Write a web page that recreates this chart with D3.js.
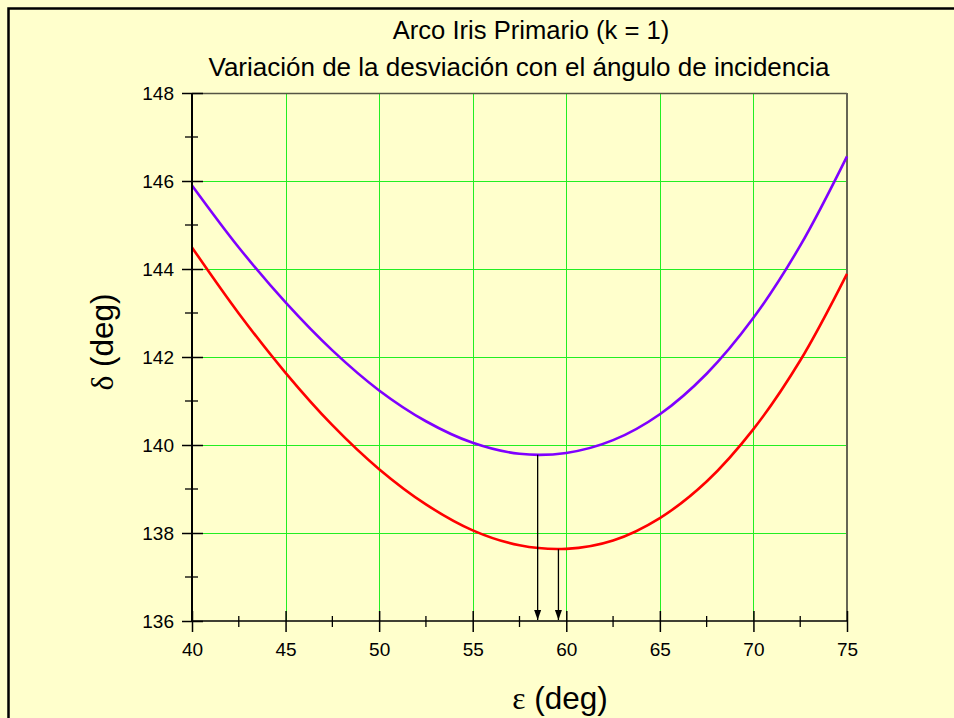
<!DOCTYPE html>
<html><head><meta charset="utf-8">
<script src="https://cdn.jsdelivr.net/npm/d3@7"></script>
<style>html,body{margin:0;padding:0;background:#FFFFCC;overflow:hidden;width:954px;height:718px;}svg{display:block;}</style>
</head><body>
<script>
// Data
const epsilon = [40, 42.5, 45, 47.5, 50, 52.5, 55, 57.5, 60, 62.5, 65, 67.5, 70, 72.5, 75];
const deltaViolet = [145.90, 144.49, 143.24, 142.15, 141.24, 140.54, 140.05, 139.80, 139.82, 140.11, 140.70, 141.62, 142.89, 144.53, 146.56];
const deltaRed    = [144.49, 142.99, 141.64, 140.45, 139.45, 138.65, 138.06, 137.72, 137.64, 137.83, 138.34, 139.17, 140.36, 141.92, 143.89];
const minViolet = [58.47, 139.78];
const minRed = [59.58, 137.63];
const xTicks = [40, 45, 50, 55, 60, 65, 70, 75];
const yTicks = [136, 138, 140, 142, 144, 146, 148];
const titleLines = ["Arco Iris Primario (k = 1)", "Variación de la desviación con el ángulo de incidencia"];

const W = 954, H = 718;
const svg = d3.select("body").append("svg").attr("width", W).attr("height", H);
svg.append("rect").attr("x", 0).attr("y", 0).attr("width", W).attr("height", H).attr("fill", "#FFFFCC");
// outer border (only left/top visible in the picture)
svg.append("path").attr("d", `M8.5,${H}V8.5H${W}`).attr("fill", "none").attr("stroke", "#000").attr("stroke-width", 2.5);

const L = 192, R = 847, T = 93, B = 621;
const x = d3.scaleLinear().domain([40, 75]).range([L, R]);
const y = d3.scaleLinear().domain([136, 148]).range([B, T]);
const font = "Arial, 'Liberation Sans', sans-serif";
const px = v => Math.round(v) + 0.5;

// grid
const g = svg.append("g");
g.selectAll(".gx").data(xTicks.slice(1, -1)).enter().append("line")
  .attr("x1", d => px(x(d))).attr("x2", d => px(x(d))).attr("y1", T).attr("y2", B)
  .attr("stroke", "#22EE22").attr("stroke-width", 1);
g.selectAll(".gy").data(yTicks.slice(1, -1)).enter().append("line")
  .attr("x1", L).attr("x2", R).attr("y1", d => px(y(d))).attr("y2", d => px(y(d)))
  .attr("stroke", "#22EE22").attr("stroke-width", 1);

// frame top/right
svg.append("line").attr("x1", L).attr("x2", R).attr("y1", T + 0.5).attr("y2", T + 0.5).attr("stroke", "#555544").attr("stroke-width", 1.5);
svg.append("line").attr("x1", R).attr("x2", R).attr("y1", T).attr("y2", B).attr("stroke", "#666655").attr("stroke-width", 2);

// curves
const line = d3.line().x(d => x(d[0])).y(d => y(d[1])).curve(d3.curveCatmullRom.alpha(0.5));
svg.append("path").datum(epsilon.map((e, i) => [e, deltaViolet[i]])).attr("d", line)
  .attr("fill", "none").attr("stroke", "#7F00FF").attr("stroke-width", 2.6);
svg.append("path").datum(epsilon.map((e, i) => [e, deltaRed[i]])).attr("d", line)
  .attr("fill", "none").attr("stroke", "#FF0000").attr("stroke-width", 2.6);

// arrows
const defs = svg.append("defs");
defs.append("marker").attr("id", "ah").attr("viewBox", "0 0 10 10").attr("refX", 10).attr("refY", 5)
  .attr("markerWidth", 10).attr("markerHeight", 10).attr("markerUnits", "userSpaceOnUse").attr("orient", "auto")
  .append("path").attr("d", "M0,1.5 L10,5 L0,8.5 Z").attr("fill", "#000");
[minViolet, minRed].forEach(m => {
  svg.append("line").attr("x1", x(m[0])).attr("x2", x(m[0])).attr("y1", y(m[1])).attr("y2", B - 1)
    .attr("stroke", "#000").attr("stroke-width", 1.3).attr("marker-end", "url(#ah)");
});

// axes
const xAxis = d3.axisBottom(x).tickValues(xTicks).tickSize(10).tickPadding(12).tickFormat(d3.format("d"));
const xa = svg.append("g").attr("transform", `translate(0,${B})`).call(xAxis);
xa.select(".domain").attr("stroke", "#000").attr("stroke-width", 1.5).attr("d", `M${L},0H${R}`);
xa.selectAll(".tick line").attr("y1", -10).attr("y2", 11).attr("stroke-width", 1.5);
xa.selectAll(".tick text").attr("font-family", font).attr("font-size", 19).attr("fill", "#000");
const xMinor = d3.range(0, xTicks.length - 1).map(i => (xTicks[i] + xTicks[i + 1]) / 2);
svg.selectAll(".xm").data(xMinor).enter().append("line")
  .attr("x1", d => x(d)).attr("x2", d => x(d)).attr("y1", B - 5).attr("y2", B + 6)
  .attr("stroke", "#000").attr("stroke-width", 1.3);

const yAxis = d3.axisLeft(y).tickValues(yTicks).tickSize(10).tickPadding(8).tickFormat(d3.format("d"));
const ya = svg.append("g").attr("transform", `translate(${L},0)`).call(yAxis);
ya.select(".domain").attr("stroke", "#000").attr("stroke-width", 2).attr("d", `M0,${T}V${B}`);
ya.selectAll(".tick line").attr("x1", -10).attr("x2", 11).attr("stroke-width", 1.5);
ya.selectAll(".tick text").attr("font-family", font).attr("font-size", 19).attr("fill", "#000");
const yMinor = d3.range(0, yTicks.length - 1).map(i => (yTicks[i] + yTicks[i + 1]) / 2);
svg.selectAll(".ym").data(yMinor).enter().append("line")
  .attr("x1", L - 7).attr("x2", L + 6).attr("y1", d => y(d)).attr("y2", d => y(d))
  .attr("stroke", "#000").attr("stroke-width", 1.3);

// titles
svg.append("text").attr("x", 531).attr("y", 39).attr("text-anchor", "middle")
  .attr("font-family", font).attr("font-size", 25.6).attr("fill", "#000").text(titleLines[0]);
svg.append("text").attr("x", 519).attr("y", 76).attr("text-anchor", "middle")
  .attr("font-family", font).attr("font-size", 26).attr("fill", "#000").text(titleLines[1]);

// axis titles
const xt = svg.append("text").attr("x", 560).attr("y", 709).attr("text-anchor", "middle")
  .attr("font-family", font).attr("font-size", 31.5).attr("fill", "#000");
xt.append("tspan").attr("font-family", "'Liberation Serif', 'DejaVu Serif', serif").text("ε");
xt.append("tspan").text(" (deg)");
const yt = svg.append("text").attr("transform", "translate(113,342) rotate(-90)").attr("text-anchor", "middle")
  .attr("font-family", font).attr("font-size", 31.5).attr("fill", "#000");
yt.append("tspan").attr("font-family", "'Liberation Serif', 'DejaVu Serif', serif").text("δ");
yt.append("tspan").text(" (deg)");
</script>
</body></html>
